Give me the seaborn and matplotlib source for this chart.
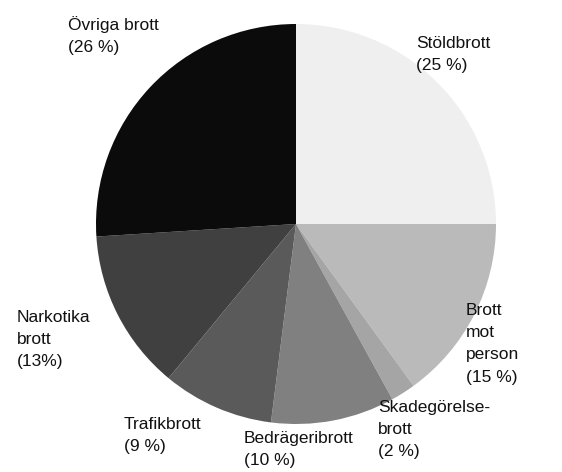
import matplotlib
matplotlib.use("Agg")
import matplotlib.pyplot as plt
import seaborn as sns

# data
categories = ["Stöldbrott", "Brott mot person", "Skadegörelsebrott", "Bedrägeribrott",
              "Trafikbrott", "Narkotika brott", "Övriga brott"]
shares = [25, 15, 2, 10, 9, 13, 26]
label_texts = ["Stöldbrott\n(25 %)", "Brott\nmot\nperson\n(15 %)", "Skadegörelse-\nbrott\n(2 %)",
               "Bedrägeribrott\n(10 %)", "Trafikbrott\n(9 %)", "Narkotika\nbrott\n(13%)",
               "Övriga brott\n(26 %)"]

sns.set_theme(style="white")
plt.rcParams["font.family"] = ["Liberation Sans", "DejaVu Sans"]

greys = ["#efefef", "#bababa", "#a5a5a5", "#808080", "#5a5a5a", "#404040", "#0b0b0b"]

W, H = 562, 472
fig = plt.figure(figsize=(W / 100, H / 100), dpi=100)
ax = fig.add_axes([0, 0, 1, 1])

ax.pie(shares, colors=greys, startangle=90, counterclock=False,
       center=(296, H - 224), radius=200, frame=True,
       wedgeprops=dict(linewidth=0))
ax.set_xlim(0, W)
ax.set_ylim(0, H)
ax.set_aspect("equal")
ax.axis("off")

# label positions (top-left of text, in pixels from top-left)
label_pos = [(416, 36), (466, 303), (378, 400), (244, 431), (124, 417), (17, 310), (68, 16)]
for txt, (x, y) in zip(label_texts, label_pos):
    ax.text(x, H - y, txt, ha="left", va="top", fontsize=12.5, color="#111111",
            linespacing=1.6)

fig.savefig("out.png", dpi=100)
